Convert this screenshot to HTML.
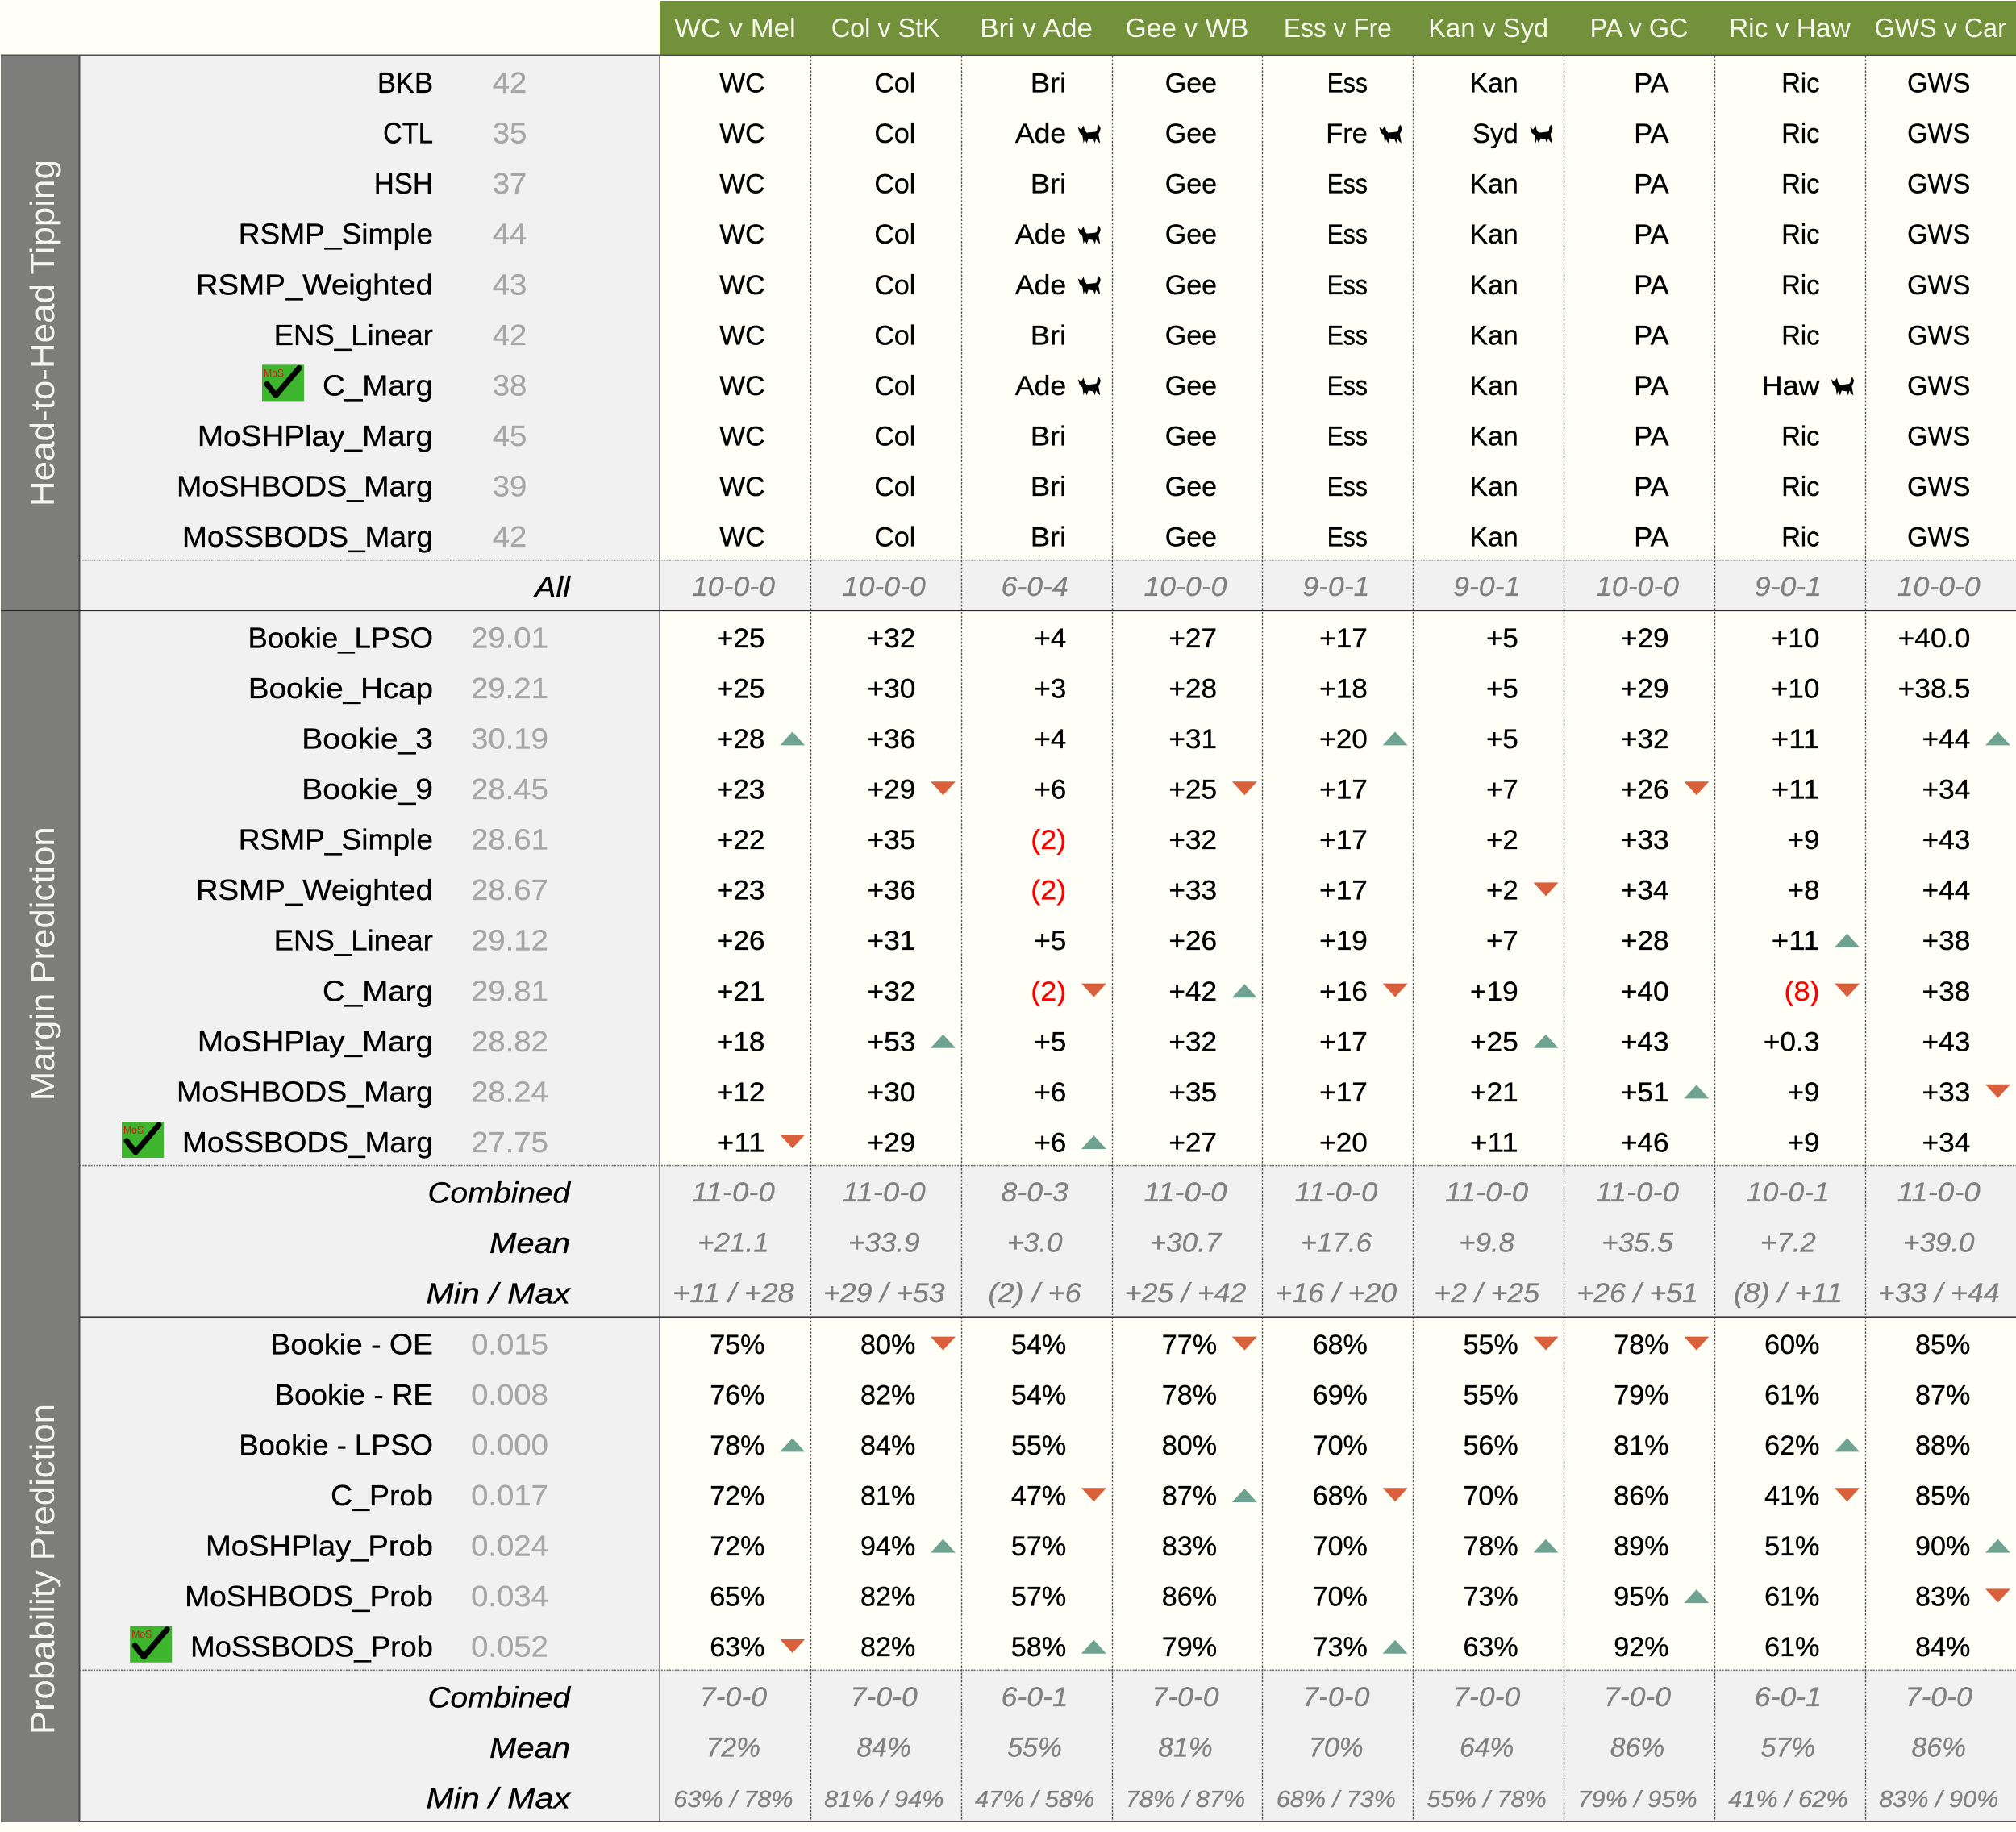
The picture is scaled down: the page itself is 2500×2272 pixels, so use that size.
<!DOCTYPE html>
<html lang="en">
<head>
<meta charset="utf-8">
<title>Tipping and prediction table</title>
<style>
html,body{margin:0;padding:0;background:#fffff8;width:2500px;height:2272px;overflow:hidden}
svg{display:block}
text{font-family:"Liberation Sans",sans-serif;white-space:pre}
</style>
</head>
<body>
<svg id="table" xmlns="http://www.w3.org/2000/svg" width="2500" height="2272" viewBox="0 0 2500 2272">
<rect x="0" y="0" width="2500" height="2272" fill="#fffff8"/>
<rect x="818" y="1" width="1682" height="67" fill="#73913b"/>
<rect x="1" y="69" width="97" height="2191" fill="#7d7d7b"/>
<rect x="99" y="69" width="719" height="2191" fill="#f1f1f1"/>
</svg>
<script>
const games = ['WC v Mel','Col v StK','Bri v Ade','Gee v WB','Ess v Fre','Kan v Syd','PA v GC','Ric v Haw','GWS v Car'];
const homeTeams = ['WC','Col','Bri','Gee','Ess','Kan','PA','Ric','GWS'];

const tipModels = ['BKB','CTL','HSH','RSMP_Simple','RSMP_Weighted','ENS_Linear','C_Marg','MoSHPlay_Marg','MoSHBODS_Marg','MoSSBODS_Marg'];
const tipScores = ['42','35','37','44','43','42','38','45','39','42'];
const tipCells = [
  ['WC','Col','Bri','Gee','Ess','Kan','PA','Ric','GWS'],
  ['WC','Col','Ade','Gee','Fre','Syd','PA','Ric','GWS'],
  ['WC','Col','Bri','Gee','Ess','Kan','PA','Ric','GWS'],
  ['WC','Col','Ade','Gee','Ess','Kan','PA','Ric','GWS'],
  ['WC','Col','Ade','Gee','Ess','Kan','PA','Ric','GWS'],
  ['WC','Col','Bri','Gee','Ess','Kan','PA','Ric','GWS'],
  ['WC','Col','Ade','Gee','Ess','Kan','PA','Haw','GWS'],
  ['WC','Col','Bri','Gee','Ess','Kan','PA','Ric','GWS'],
  ['WC','Col','Bri','Gee','Ess','Kan','PA','Ric','GWS'],
  ['WC','Col','Bri','Gee','Ess','Kan','PA','Ric','GWS']
];
const tipAll = ['10-0-0','10-0-0','6-0-4','10-0-0','9-0-1','9-0-1','10-0-0','9-0-1','10-0-0'];

const marginModels = ['Bookie_LPSO','Bookie_Hcap','Bookie_3','Bookie_9','RSMP_Simple','RSMP_Weighted','ENS_Linear','C_Marg','MoSHPlay_Marg','MoSHBODS_Marg','MoSSBODS_Marg'];
const marginScores = ['29.01','29.21','30.19','28.45','28.61','28.67','29.12','29.81','28.82','28.24','27.75'];
const marginCells = [
  ['+25','+32','+4','+27','+17','+5','+29','+10','+40.0'],
  ['+25','+30','+3','+28','+18','+5','+29','+10','+38.5'],
  ['+28^','+36','+4','+31','+20^','+5','+32','+11','+44^'],
  ['+23','+29v','+6','+25v','+17','+7','+26v','+11','+34'],
  ['+22','+35','(2)','+32','+17','+2','+33','+9','+43'],
  ['+23','+36','(2)','+33','+17','+2v','+34','+8','+44'],
  ['+26','+31','+5','+26','+19','+7','+28','+11^','+38'],
  ['+21','+32','(2)v','+42^','+16v','+19','+40','(8)v','+38'],
  ['+18','+53^','+5','+32','+17','+25^','+43','+0.3','+43'],
  ['+12','+30','+6','+35','+17','+21','+51^','+9','+33v'],
  ['+11v','+29','+6^','+27','+20','+11','+46','+9','+34']
];
const marginCombined = ['11-0-0','11-0-0','8-0-3','11-0-0','11-0-0','11-0-0','11-0-0','10-0-1','11-0-0'];
const marginMean = ['+21.1','+33.9','+3.0','+30.7','+17.6','+9.8','+35.5','+7.2','+39.0'];
const marginMinMax = ['+11 / +28','+29 / +53','(2) / +6','+25 / +42','+16 / +20','+2 / +25','+26 / +51','(8) / +11','+33 / +44'];

const probModels = ['Bookie - OE','Bookie - RE','Bookie - LPSO','C_Prob','MoSHPlay_Prob','MoSHBODS_Prob','MoSSBODS_Prob'];
const probScores = ['0.015','0.008','0.000','0.017','0.024','0.034','0.052'];
const probCells = [
  ['75%','80%v','54%','77%v','68%','55%v','78%v','60%','85%'],
  ['76%','82%','54%','78%','69%','55%','79%','61%','87%'],
  ['78%^','84%','55%','80%','70%','56%','81%','62%^','88%'],
  ['72%','81%','47%v','87%^','68%v','70%','86%','41%v','85%'],
  ['72%','94%^','57%','83%','70%','78%^','89%','51%','90%^'],
  ['65%','82%','57%','86%','70%','73%','95%^','61%','83%v'],
  ['63%v','82%','58%^','79%','73%^','63%','92%','61%','84%']
];
const probCombined = ['7-0-0','7-0-0','6-0-1','7-0-0','7-0-0','7-0-0','7-0-0','6-0-1','7-0-0'];
const probMean = ['72%','84%','55%','81%','70%','64%','86%','57%','86%'];
const probMinMax = ['63% / 78%','81% / 94%','47% / 58%','78% / 87%','68% / 73%','55% / 78%','79% / 95%','41% / 62%','83% / 90%'];

const sectionTitles = ['Head-to-Head Tipping','Margin Prediction','Probability Prediction'];
const sectionTitleLengths = [430, 340, 410];
const bestModels = ['C_Marg','MoSSBODS_Marg','MoSSBODS_Prob'];

/* layout scales */
const SVG_NS = 'http://www.w3.org/2000/svg';
const svg = document.getElementById('table');
const TOP = 69, ROW_H = 62.571, COL_X0 = 818, COL_W = 186.85, RIGHT = 2500;
const LABEL_RIGHT = 537, SCORE_CENTER = 632, SUMMARY_LABEL_RIGHT = 707;
const rowTop = i => TOP + i * ROW_H;
const colLeft = c => COL_X0 + c * COL_W;

/* advance widths of the reference typeface, used to fit each string to its true width */
const ADV = {' ':.226,'+':.498,'-':.306,'%':.715,'(':.303,')':.303,'/':.386,'_':.498,'.':.252,
A:.579,B:.544,C:.533,D:.615,E:.488,F:.459,G:.631,H:.623,I:.252,J:.319,K:.520,L:.420,M:.855,N:.646,O:.662,P:.517,Q:.673,R:.543,S:.459,T:.487,U:.642,V:.567,W:.890,X:.519,Y:.487,Z:.468,
a:.479,b:.525,c:.423,d:.525,e:.498,f:.305,g:.471,h:.525,i:.229,j:.239,k:.455,l:.229,m:.799,n:.525,o:.527,p:.525,q:.525,r:.349,s:.391,t:.335,u:.525,v:.452,w:.715,x:.433,y:.453,z:.395};
function fitWidth(str, em){
  let w = 0;
  for (const ch of str) w += (ch >= '0' && ch <= '9') ? .507 : (ADV[ch] || .5);
  return w * em;
}
function addText(str, x, y, anchor, em, size, fill, italic, weight){
  const w = fitWidth(str, em);
  const el = document.createElementNS(SVG_NS, 'text');
  const start = anchor === 'end' ? x - w : anchor === 'middle' ? x - w / 2 : x;
  el.setAttribute('x', start.toFixed(2));
  el.setAttribute('y', y.toFixed(2));
  el.setAttribute('font-size', size);
  el.setAttribute('fill', fill);
  if (weight) {
    el.setAttribute('stroke', fill);
    el.setAttribute('stroke-width', weight);
  }
  el.setAttribute('textLength', w.toFixed(2));
  el.setAttribute('lengthAdjust', 'spacingAndGlyphs');
  if (italic) el.setAttribute('font-style', 'italic');
  el.textContent = str;
  svg.appendChild(el);
  return el;
}
function addLine(x1, y1, x2, y2, stroke, width, dash){
  const el = document.createElementNS(SVG_NS, 'line');
  el.setAttribute('x1', x1);
  el.setAttribute('y1', y1);
  el.setAttribute('x2', x2);
  el.setAttribute('y2', y2);
  el.setAttribute('stroke', stroke);
  el.setAttribute('stroke-width', width);
  if (dash) el.setAttribute('stroke-dasharray', dash);
  svg.appendChild(el);
  return el;
}
function addBand(y, h){
  const el = document.createElementNS(SVG_NS, 'rect');
  el.setAttribute('x', COL_X0);
  el.setAttribute('y', y);
  el.setAttribute('width', RIGHT - COL_X0);
  el.setAttribute('height', h);
  el.setAttribute('fill', '#f1f1f1');
  svg.insertBefore(el, svg.children[4]);
  return el;
}
function addTriangle(cx, top, dir){
  const el = document.createElementNS(SVG_NS, 'polygon');
  const hw = 15.5, h = 17;
  const pts = dir === 'up'
    ? [[cx - hw, top + h], [cx + hw, top + h], [cx, top]]
    : [[cx - hw, top], [cx + hw, top], [cx, top + h]];
  el.setAttribute('points', pts.map(p => p[0].toFixed(1) + ',' + p[1].toFixed(1)).join(' '));
  el.setAttribute('fill', dir === 'up' ? '#6fa391' : '#da603b');
  svg.appendChild(el);
  return el;
}
function addDog(x, y){
  const el = document.createElementNS(SVG_NS, 'path');
  el.setAttribute('transform', 'translate(' + x.toFixed(1) + ' ' + y.toFixed(1) + ')');
  el.setAttribute('d', 'M1 3L5 6L8 1L9.500 7L12 10L21 9C25 9 25 6 25 3L27 0L29 4C29 8 27 10 26.500 12L28.500 23L26 21L23.500 17L22 23L20 18L14 17L12 23L9.500 18L8 23L6.500 13L3 10Z');
  el.setAttribute('fill', '#000');
  svg.appendChild(el);
  return el;
}
function addBestIcon(x, y){
  const g = document.createElementNS(SVG_NS, 'g');
  g.setAttribute('transform', 'translate(' + x.toFixed(1) + ' ' + y.toFixed(1) + ')');
  const box = document.createElementNS(SVG_NS, 'rect');
  box.setAttribute('width', 52);
  box.setAttribute('height', 45);
  box.setAttribute('fill', '#3db52d');
  g.appendChild(box);
  const mark = document.createElementNS(SVG_NS, 'polyline');
  mark.setAttribute('points', '6,24 17,38 46,4');
  mark.setAttribute('fill', 'none');
  mark.setAttribute('stroke', '#000');
  mark.setAttribute('stroke-width', 7);
  mark.setAttribute('stroke-linecap', 'round');
  mark.setAttribute('stroke-linejoin', 'round');
  g.appendChild(mark);
  const tag = document.createElementNS(SVG_NS, 'text');
  tag.setAttribute('x', 2);
  tag.setAttribute('y', 15);
  tag.setAttribute('font-size', 14);
  tag.setAttribute('fill', '#c8201e');
  tag.setAttribute('textLength', 25);
  tag.setAttribute('lengthAdjust', 'spacingAndGlyphs');
  tag.textContent = 'MoS';
  g.appendChild(tag);
  svg.appendChild(g);
  return g;
}

/* header */
games.forEach((game, c) => {
  const el = addText(game, colLeft(c) + COL_W / 2, 46, 'middle', 38.5, 33, '#f6f8ec', false, 0);
  
  
});

function renderSection(index, startRow, models, scores, cells, summaryLabels, summaries){
  const totalRows = models.length + summaryLabels.length;
  /* summary band */
  const band = addBand(rowTop(startRow + models.length), summaryLabels.length * ROW_H);
  
  

  /* section title */
  const cy = rowTop(startRow) + totalRows * ROW_H / 2;
  const title = document.createElementNS(SVG_NS, 'text');
  title.setAttribute('transform', 'translate(67 ' + cy.toFixed(1) + ') rotate(-90)');
  title.setAttribute('x', (-sectionTitleLengths[index] / 2).toFixed(1));
  title.setAttribute('y', 0);
  title.setAttribute('font-size', 42);
  title.setAttribute('fill', '#f4f4f2');
  title.setAttribute('textLength', sectionTitleLengths[index]);
  title.setAttribute('lengthAdjust', 'spacingAndGlyphs');
  title.textContent = sectionTitles[index];
  
  
  svg.appendChild(title);

  /* model rows */
  models.forEach((model, r) => {
    const top = rowTop(startRow + r);
    const label = addText(model, LABEL_RIGHT, top + 46, 'end', 43, 36, '#000', false, .35);
    
    

    const score = addText(scores[r], SCORE_CENTER, top + 46, 'middle', 42, 36, '#a6a6a6', false, .3);
    
    

    if (model === bestModels[index]) {
      const icon = addBestIcon(LABEL_RIGHT - fitWidth(model, 43) - 75, top + 8);
      
      
    }

    cells[r].forEach((raw, c) => {
      const marker = raw.slice(-1);
      const hasMarker = marker === '^' || marker === 'v';
      const value = hasMarker ? raw.slice(0, -1) : raw;
      const left = colLeft(c);
      const colour = value.charAt(0) === '(' ? '#ff0000' : '#000';
      const cell = addText(value, left + 130.5, top + 45.5, 'end', 39.5, 34.5, colour, false, .35);
      
      

      if (hasMarker) {
        const dir = marker === '^' ? 'up' : 'down';
        const tri = addTriangle(left + 164.7, top + (dir === 'up' ? 25 : 24.3), dir);
        
        
      }
      if (index === 0 && value !== homeTeams[c]) {
        const dog = addDog(left + 144, top + 23);
        
        
      }
    });
  });

  /* summary rows */
  summaryLabels.forEach((name, s) => {
    const top = rowTop(startRow + models.length + s);
    const lab = addText(name, SUMMARY_LABEL_RIGHT, top + 46, 'end', 42.4, 36, '#000', true, .35);
    
    

    summaries[s].forEach((str, c) => {
      const small = str.indexOf('%') >= 0 && str.indexOf('/') >= 0;
      const val = addText(str, colLeft(c) + COL_W / 2 - 2, top + 44.5, 'middle', small ? 34.5 : 39, small ? 29 : 34.5, '#808080', true, .3);
      
      
    });
  });

  /* dotted divider above summary */
  const dividerY = rowTop(startRow + models.length);
  const divider = addLine(99, dividerY, RIGHT, dividerY, '#6e6e6e', 1.6, '2 1.4');
  
  
}

renderSection(0, 0, tipModels, tipScores, tipCells, ['All'], [tipAll]);
renderSection(1, 11, marginModels, marginScores, marginCells, ['Combined','Mean','Min / Max'], [marginCombined, marginMean, marginMinMax]);
renderSection(2, 25, probModels, probScores, probCells, ['Combined','Mean','Min / Max'], [probCombined, probMean, probMinMax]);

/* column separators */
games.forEach((game, c) => {
  if (c === 0) return;
  const x = Math.round(colLeft(c)) + .5;
  const sep = addLine(x, TOP, x, rowTop(35), '#555', 1.4, '2.6 2');
  
  
});
const panelEdge = addLine(818, TOP, 818, rowTop(35), '#777', 1.6);


const barEdge = addLine(98.500, TOP, 98.500, rowTop(35), '#4a4a4a', 2);



/* section rules */
const headerRule = addLine(1, 68.500, RIGHT, 68.500, '#4f4f4f', 2);


const ruleOne = addLine(1, rowTop(11), RIGHT, rowTop(11), '#2b2b2b', 1.8);


const ruleTwo = addLine(99, rowTop(25), RIGHT, rowTop(25), '#3c3c3c', 1.8);


const ruleEnd = addLine(99, rowTop(35), RIGHT, rowTop(35), '#3c3c3c', 1.8);


</script>
</body>
</html>
